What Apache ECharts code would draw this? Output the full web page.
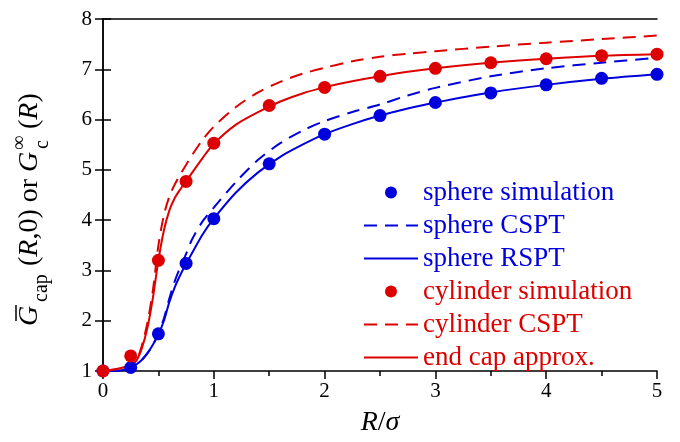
<!DOCTYPE html>
<html>
<head>
<meta charset="utf-8">
<script src="https://cdn.jsdelivr.net/npm/echarts@6/dist/echarts.min.js"></script>
<style>
  html, body { margin: 0; padding: 0; background: #fff; }
  #chart { width: 680px; height: 442px; }
</style>
</head>
<body>
<div id="chart"></div>
<script>
// simulation points
var simR = [0, 0.25, 0.5, 0.75, 1, 1.5, 2, 2.5, 3, 3.5, 4, 4.5, 5];
var sphereSim = [1.0, 1.07, 1.74, 3.14, 4.03, 5.12, 5.71, 6.08, 6.34, 6.53, 6.69, 6.82, 6.9];
var cylinderSim = [1.0, 1.3, 3.2, 4.77, 5.53, 6.28, 6.64, 6.86, 7.02, 7.13, 7.21, 7.27, 7.3];

// theory curves
var curveR = [0, 0.1, 0.2, 0.25, 0.3, 0.35, 0.4, 0.45, 0.5, 0.55, 0.6, 0.65, 0.7, 0.75, 0.8, 0.9,
  1.0, 1.2, 1.4, 1.6, 1.8, 2.0, 2.25, 2.5, 2.75, 3.0, 3.5, 4.0, 4.5, 5.0];
var sphereCSPT = [1.0, 1.0, 1.03, 1.07, 1.13, 1.22, 1.35, 1.52, 1.75, 2.05, 2.45, 2.8, 3.08, 3.33, 3.6, 3.98,
  4.25, 4.76, 5.2, 5.53, 5.78, 5.97, 6.15, 6.3, 6.48, 6.63, 6.86, 7.02, 7.13, 7.23];
var sphereRSPT = [1.0, 1.0, 1.03, 1.07, 1.13, 1.22, 1.35, 1.52, 1.73, 2.0, 2.38, 2.68, 2.92, 3.13, 3.33, 3.72,
  4.03, 4.55, 4.95, 5.26, 5.5, 5.71, 5.91, 6.08, 6.22, 6.34, 6.54, 6.69, 6.81, 6.9];
var cylinderCSPT = [1.0, 1.03, 1.08, 1.12, 1.2, 1.5, 1.95, 2.6, 3.5, 4.1, 4.48, 4.72, 4.92, 5.1, 5.28, 5.6,
  5.86, 6.25, 6.54, 6.75, 6.91, 7.03, 7.16, 7.25, 7.31, 7.36, 7.45, 7.53, 7.6, 7.67];
var endCap = [1.0, 1.03, 1.08, 1.12, 1.2, 1.45, 1.85, 2.45, 3.2, 3.8, 4.2, 4.45, 4.62, 4.77, 4.93, 5.24,
  5.52, 5.9, 6.15, 6.36, 6.52, 6.64, 6.76, 6.86, 6.95, 7.02, 7.13, 7.21, 7.27, 7.3];

var xTicks = [0, 1, 2, 3, 4, 5];
var yTicks = [1, 2, 3, 4, 5, 6, 7, 8];

var BLUE = '#0000dd';
var RED = '#dd0000';
var FONT = 'Liberation Serif';

function pairs(xs, ys) {
  return xs.map(function (x, i) { return [x, ys[i]]; });
}

var chart = echarts.init(document.getElementById('chart'));

var axisLine = { lineStyle: { color: '#000', width: 1.5 } };
var tickStyle = { color: '#000', width: 1.5 };
var titleRich = {
  n: { fontFamily: FONT, fontSize: 28, color: '#000' },
  i: { fontFamily: FONT, fontStyle: 'italic', fontSize: 28, color: '#000' }
};

chart.setOption({
  animation: false,
  grid: { left: 103, right: 23, top: 19, bottom: 54 },
  xAxis: [
    {
      type: 'value',
      min: xTicks[0],
      max: xTicks[xTicks.length - 1],
      interval: 1,
      axisLine: axisLine,
      axisTick: { inside: false, length: 8, lineStyle: tickStyle },
      minorTick: { show: true, splitNumber: 2, length: 5, lineStyle: tickStyle },
      splitLine: { show: false },
      axisLabel: { color: '#000', fontFamily: FONT, fontSize: 21, margin: 10 },
      name: '{i|R}{n|/}{i|σ}',
      nameLocation: 'middle',
      nameGap: 38,
      nameTextStyle: {
        rich: {
          i: { fontFamily: FONT, fontStyle: 'italic', fontSize: 28, color: '#000' },
          n: { fontFamily: FONT, fontSize: 28, color: '#000' }
        }
      }
    },
    {
      type: 'value',
      position: 'top',
      min: xTicks[0],
      max: xTicks[xTicks.length - 1],
      axisLine: axisLine,
      axisTick: { show: false },
      axisLabel: { show: false },
      splitLine: { show: false }
    }
  ],
  yAxis: [
    {
      type: 'value',
      min: yTicks[0],
      max: yTicks[yTicks.length - 1],
      interval: 1,
      axisLine: axisLine,
      axisTick: { inside: false, length: 8, lineStyle: tickStyle },
      splitLine: { show: false },
      axisLabel: { color: '#000', fontFamily: FONT, fontSize: 21, margin: 11 }
    },
    {
      type: 'value',
      position: 'right',
      min: yTicks[0],
      max: yTicks[yTicks.length - 1],
      interval: 1,
      axisLine: axisLine,
      axisTick: { inside: false, length: 8, lineStyle: tickStyle },
      splitLine: { show: false },
      axisLabel: { show: false }
    }
  ],
  legend: {
    orient: 'vertical',
    left: 363,
    top: 179,
    padding: 0,
    itemGap: 6,
    itemWidth: 54,
    itemHeight: 12,
    textStyle: { fontFamily: FONT, fontSize: 27, lineHeight: 26 },
    data: [
      { name: 'sphere simulation', textStyle: { color: BLUE } },
      { name: 'sphere CSPT', itemStyle: { opacity: 0 }, textStyle: { color: BLUE } },
      { name: 'sphere RSPT', itemStyle: { opacity: 0 }, textStyle: { color: BLUE } },
      { name: 'cylinder simulation', textStyle: { color: RED } },
      { name: 'cylinder CSPT', itemStyle: { opacity: 0 }, textStyle: { color: RED } },
      { name: 'end cap approx.', itemStyle: { opacity: 0 }, textStyle: { color: RED } }
    ]
  },
  graphic: [
    {
      // rotated y-axis title
      type: 'group',
      x: 30,
      y: 326,
      rotation: Math.PI / 2,
      children: [
        { type: 'text', x: 0, y: 0, style: { text: 'G', font: 'italic 28px "Liberation Serif"', fill: '#000', textVerticalAlign: 'middle', verticalAlign: 'middle' } },
        { type: 'line', shape: { x1: 5, y1: -14, x2: 21, y2: -14 }, style: { stroke: '#000', lineWidth: 1.5 } },
        { type: 'text', x: 24, y: 12, style: { text: 'cap', font: '20px "Liberation Serif"', fill: '#000', textVerticalAlign: 'middle', verticalAlign: 'middle' } },
        {
          type: 'text', x: 60, y: 0,
          style: { text: '{n|(}{i|R}{n|,0) or }{i|G}', rich: titleRich, textVerticalAlign: 'middle', verticalAlign: 'middle' }
        },
        { type: 'text', x: 176, y: -10, style: { text: '∞', font: '20px "Liberation Serif"', fill: '#000', textVerticalAlign: 'middle', verticalAlign: 'middle' } },
        { type: 'text', x: 177, y: 13, style: { text: 'c', font: '20px "Liberation Serif"', fill: '#000', textVerticalAlign: 'middle', verticalAlign: 'middle' } },
        {
          type: 'text', x: 197, y: 0,
          style: { text: '{n|(}{i|R}{n|)}', rich: titleRich, textVerticalAlign: 'middle', verticalAlign: 'middle' }
        }
      ]
    }
  ],
  series: [
    {
      name: 'sphere CSPT',
      type: 'line',
      data: pairs(curveR, sphereCSPT),
      symbol: 'none',
      smooth: 0.3,
      lineStyle: { color: BLUE, width: 2, type: [13, 8] },
      itemStyle: { color: BLUE }
    },
    {
      name: 'sphere RSPT',
      type: 'line',
      data: pairs(curveR, sphereRSPT),
      symbol: 'none',
      smooth: 0.3,
      lineStyle: { color: BLUE, width: 2 },
      itemStyle: { color: BLUE }
    },
    {
      name: 'sphere simulation',
      type: 'scatter',
      data: pairs(simR, sphereSim),
      symbolSize: 13,
      itemStyle: { color: BLUE, opacity: 1 },
      z: 5
    },
    {
      name: 'cylinder CSPT',
      type: 'line',
      data: pairs(curveR, cylinderCSPT),
      symbol: 'none',
      smooth: 0.3,
      lineStyle: { color: RED, width: 2, type: [13, 8] },
      itemStyle: { color: RED }
    },
    {
      name: 'end cap approx.',
      type: 'line',
      data: pairs(curveR, endCap),
      symbol: 'none',
      smooth: 0.3,
      lineStyle: { color: RED, width: 2 },
      itemStyle: { color: RED }
    },
    {
      name: 'cylinder simulation',
      type: 'scatter',
      data: pairs(simR, cylinderSim),
      symbolSize: 13,
      itemStyle: { color: RED, opacity: 1 },
      z: 6
    }
  ]
});
</script>
</body>
</html>
